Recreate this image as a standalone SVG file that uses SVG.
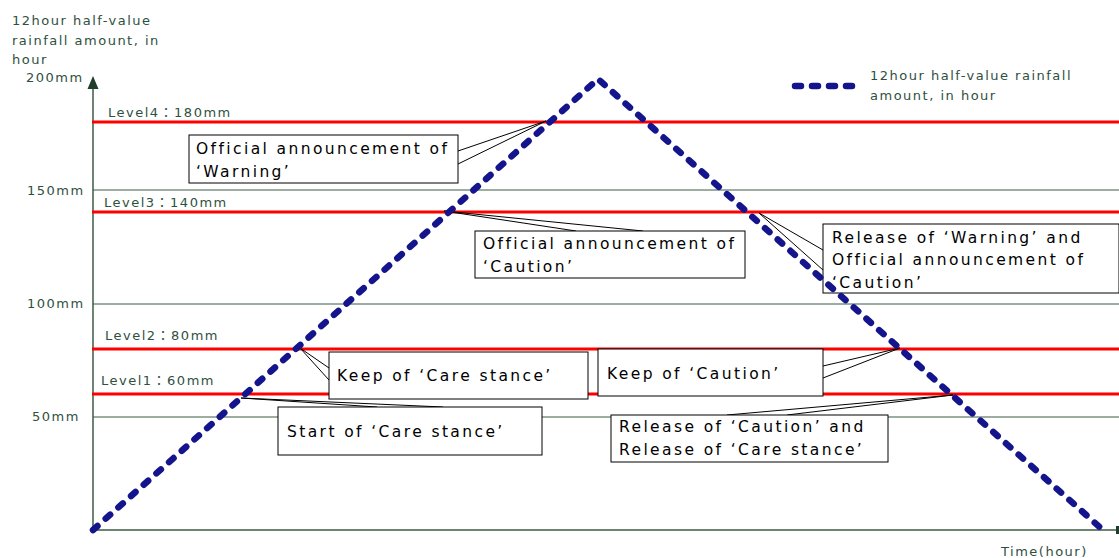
<svg xmlns="http://www.w3.org/2000/svg" width="1119" height="558" viewBox="0 0 1119 558">
  <style>
    .axis { stroke: #3d5a45; stroke-width: 1.5; fill: none; }
    .grid { stroke: #3d5a45; stroke-width: 1; fill: none; }
    .level { stroke: #ff0000; stroke-width: 3; fill: none; }
    .lbl { font-family: "DejaVu Sans", "Noto Sans CJK JP", sans-serif; font-size: 13px; fill: #2f5040; letter-spacing: 1.5px; }
    .box rect { fill: #ffffff; stroke: #000000; stroke-width: 1; }
    .box text { font-family: "DejaVu Sans", "Noto Sans CJK JP", sans-serif; font-size: 15.5px; fill: #000000; letter-spacing: 2.4px; }
    .lead { stroke: #000000; stroke-width: 1; fill: none; }
    .rain { stroke: #14148c; stroke-width: 6.5; stroke-linecap: round; stroke-dasharray: 6 11; fill: none; }
  </style>

  <!-- axis title and scale labels -->
  <g id="y-axis-labels">
    <text class="lbl" x="12" y="25">12hour half-value</text>
    <text class="lbl" x="12" y="45">rainfall amount, in</text>
    <text class="lbl" x="12" y="64">hour</text>
    <text class="lbl" x="26" y="82">200mm</text>
    <text class="lbl" x="27" y="195">150mm</text>
    <text class="lbl" x="27" y="308">100mm</text>
    <text class="lbl" x="32" y="421">50mm</text>
    <text class="lbl" x="1001" y="556">Time(hour)</text>
  </g>

  <!-- grid and axes -->
  <g id="grid">
    <line class="grid" x1="93" y1="190" x2="1119" y2="190"/>
    <line class="grid" x1="93" y1="304" x2="1119" y2="304"/>
    <line class="grid" x1="93" y1="417" x2="1119" y2="417"/>
    <line class="axis" x1="93" y1="86" x2="93" y2="530"/>
    <line class="axis" x1="93" y1="530" x2="1119" y2="530"/>
    <polygon points="93,76 87.5,89 98.5,89" fill="#1f3d2a"/>
    <rect x="1116" y="526" width="3" height="8" fill="#1f3d2a"/>
  </g>

  <!-- threshold levels -->
  <g id="levels">
    <line class="level" x1="92" y1="122" x2="1119" y2="122"/>
    <line class="level" x1="92" y1="212" x2="1119" y2="212"/>
    <line class="level" x1="92" y1="349" x2="1119" y2="349"/>
    <line class="level" x1="92" y1="394" x2="1119" y2="394"/>
    <text class="lbl" x="108" y="117">Level4：180mm</text>
    <text class="lbl" x="104" y="207">Level3：140mm</text>
    <text class="lbl" x="105" y="340">Level2：80mm</text>
    <text class="lbl" x="101" y="385">Level1：60mm</text>
  </g>

  <!-- callout leader lines -->
  <g id="connectors">
    <polyline class="lead" points="458,151 546,121 458,164"/>
    <polyline class="lead" points="576,231 444,211 643,231"/>
    <polyline class="lead" points="823,250 759,213 823,270"/>
    <polyline class="lead" points="329,368 300,348 329,380"/>
    <polyline class="lead" points="377,407 241,398 443,407"/>
    <polyline class="lead" points="823,366 900,348 823,378"/>
    <polyline class="lead" points="727,415 953,395 787,415"/>
  </g>

  <g id="warning" class="box">
    <rect x="189" y="135" width="269" height="48"/>
    <text x="196" y="154">Official announcement of</text>
    <text x="196" y="177">‘Warning’</text>
  </g>

  <g id="caution" class="box">
    <rect x="475" y="231" width="270" height="47"/>
    <text x="483" y="249">Official announcement of</text>
    <text x="483" y="272">‘Caution’</text>
  </g>

  <g id="release-warning" class="box">
    <rect x="823" y="224" width="296" height="69"/>
    <text x="832" y="243">Release of ‘Warning’ and</text>
    <text x="832" y="265">Official announcement of</text>
    <text x="832" y="288">‘Caution’</text>
  </g>

  <g id="keep-care" class="box">
    <rect x="329" y="352" width="259" height="47"/>
    <text x="337" y="381">Keep of ‘Care stance’</text>
  </g>

  <g id="start-care" class="box">
    <rect x="278" y="407" width="264" height="48"/>
    <text x="287" y="437">Start of ‘Care stance’</text>
  </g>

  <g id="keep-caution" class="box">
    <rect x="598" y="349" width="225" height="47"/>
    <text x="607" y="379">Keep of ‘Caution’</text>
  </g>

  <g id="release-caution" class="box">
    <rect x="611" y="415" width="277" height="47"/>
    <text x="619" y="432">Release of ‘Caution’ and</text>
    <text x="619" y="455">Release of ‘Care stance’</text>
  </g>

  <!-- rainfall curve and legend -->
  <g id="rainfall">
    <polyline class="rain" points="93,530 598,79 1103,530"/>
    <line class="rain" x1="795" y1="86" x2="852" y2="86" stroke-dasharray="7 12"/>
    <text class="lbl" x="870" y="80">12hour half-value rainfall</text>
    <text class="lbl" x="870" y="100">amount, in hour</text>
  </g>
</svg>
